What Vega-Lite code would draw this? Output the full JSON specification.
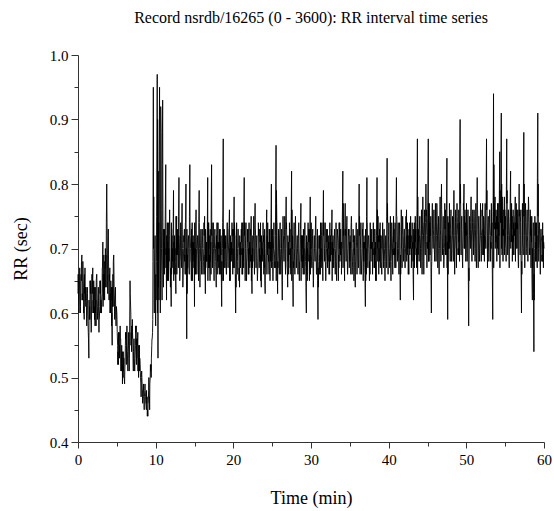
{
"$schema": "https://vega.github.io/schema/vega-lite/v6.json",
"autosize": "none",
"width": 466,
"height": 387,
"padding": {"left": 78, "top": 55, "right": 10, "bottom": 69},
"background": "white",
"title": {"text": "Record nsrdb/16265 (0 - 3600): RR interval time series", "font": "Liberation Serif", "fontSize": 16, "fontWeight": "normal", "color": "black", "anchor": "middle", "offset": 22},
"config": {"view": {"stroke": null}},
"data": {"values": [
{"t":0.0,"v":0.63},{"t":0.1,"v":0.61},{"t":0.2,"v":0.65},{"t":0.3,"v":0.60},{"t":0.4,"v":0.66},{"t":0.5,"v":0.69},{"t":0.6,"v":0.62},{"t":0.7,"v":0.64},{"t":0.8,"v":0.59},{"t":0.9,"v":0.67},
{"t":1.0,"v":0.62},{"t":1.1,"v":0.60},{"t":1.2,"v":0.64},{"t":1.3,"v":0.58},{"t":1.4,"v":0.53},{"t":1.5,"v":0.61},{"t":1.6,"v":0.63},{"t":1.7,"v":0.57},{"t":1.8,"v":0.66},{"t":1.9,"v":0.67},
{"t":2.0,"v":0.60},{"t":2.1,"v":0.64},{"t":2.2,"v":0.58},{"t":2.3,"v":0.62},{"t":2.4,"v":0.66},{"t":2.5,"v":0.59},{"t":2.6,"v":0.63},{"t":2.7,"v":0.57},{"t":2.8,"v":0.61},{"t":2.9,"v":0.65},
{"t":3.0,"v":0.60},{"t":3.1,"v":0.63},{"t":3.2,"v":0.71},{"t":3.3,"v":0.62},{"t":3.4,"v":0.66},{"t":3.5,"v":0.64},{"t":3.6,"v":0.69},{"t":3.7,"v":0.80},{"t":3.8,"v":0.65},{"t":3.9,"v":0.73},
{"t":4.0,"v":0.62},{"t":4.1,"v":0.67},{"t":4.2,"v":0.60},{"t":4.3,"v":0.64},{"t":4.4,"v":0.55},{"t":4.5,"v":0.66},{"t":4.6,"v":0.69},{"t":4.7,"v":0.61},{"t":4.8,"v":0.63},{"t":4.9,"v":0.58},
{"t":5.0,"v":0.60},{"t":5.1,"v":0.55},{"t":5.2,"v":0.52},{"t":5.3,"v":0.57},{"t":5.4,"v":0.53},{"t":5.5,"v":0.56},{"t":5.6,"v":0.51},{"t":5.7,"v":0.54},{"t":5.8,"v":0.50},{"t":5.9,"v":0.53},
{"t":6.0,"v":0.49},{"t":6.1,"v":0.55},{"t":6.2,"v":0.57},{"t":6.3,"v":0.58},{"t":6.4,"v":0.52},{"t":6.5,"v":0.55},{"t":6.6,"v":0.51},{"t":6.7,"v":0.65},{"t":6.8,"v":0.60},{"t":6.9,"v":0.54},
{"t":7.0,"v":0.59},{"t":7.1,"v":0.52},{"t":7.2,"v":0.56},{"t":7.3,"v":0.51},{"t":7.4,"v":0.55},{"t":7.5,"v":0.58},{"t":7.6,"v":0.53},{"t":7.7,"v":0.57},{"t":7.8,"v":0.50},{"t":7.9,"v":0.55},
{"t":8.0,"v":0.52},{"t":8.1,"v":0.49},{"t":8.2,"v":0.51},{"t":8.3,"v":0.47},{"t":8.4,"v":0.48},{"t":8.5,"v":0.46},{"t":8.6,"v":0.48},{"t":8.7,"v":0.47},{"t":8.8,"v":0.45},{"t":8.9,"v":0.47},
{"t":9.0,"v":0.44},{"t":9.1,"v":0.48},{"t":9.2,"v":0.47},{"t":9.3,"v":0.50},{"t":9.4,"v":0.52},{"t":9.5,"v":0.55},{"t":9.6,"v":0.57},{"t":9.7,"v":0.95},{"t":9.8,"v":0.62},{"t":9.9,"v":0.70},
{"t":10.0,"v":0.58},{"t":10.1,"v":0.68},{"t":10.2,"v":0.97},{"t":10.3,"v":0.53},{"t":10.4,"v":0.74},{"t":10.5,"v":0.95},{"t":10.6,"v":0.60},{"t":10.7,"v":0.88},{"t":10.8,"v":0.66},{"t":10.9,"v":0.93},
{"t":11.0,"v":0.64},{"t":11.1,"v":0.71},{"t":11.2,"v":0.69},{"t":11.3,"v":0.83},{"t":11.4,"v":0.62},{"t":11.5,"v":0.74},{"t":11.6,"v":0.66},{"t":11.7,"v":0.70},{"t":11.8,"v":0.76},{"t":11.9,"v":0.64},
{"t":12.0,"v":0.61},{"t":12.1,"v":0.72},{"t":12.2,"v":0.68},{"t":12.3,"v":0.79},{"t":12.4,"v":0.66},{"t":12.5,"v":0.70},{"t":12.6,"v":0.63},{"t":12.7,"v":0.75},{"t":12.8,"v":0.69},{"t":12.9,"v":0.72},
{"t":13.0,"v":0.81},{"t":13.1,"v":0.65},{"t":13.2,"v":0.71},{"t":13.3,"v":0.68},{"t":13.4,"v":0.77},{"t":13.5,"v":0.64},{"t":13.6,"v":0.70},{"t":13.7,"v":0.73},{"t":13.8,"v":0.66},{"t":13.9,"v":0.80},
{"t":14.0,"v":0.56},{"t":14.1,"v":0.69},{"t":14.2,"v":0.72},{"t":14.3,"v":0.67},{"t":14.4,"v":0.83},{"t":14.5,"v":0.70},{"t":14.6,"v":0.65},{"t":14.7,"v":0.74},{"t":14.8,"v":0.68},{"t":14.9,"v":0.71},
{"t":15.0,"v":0.61},{"t":15.1,"v":0.70},{"t":15.2,"v":0.76},{"t":15.3,"v":0.66},{"t":15.4,"v":0.72},{"t":15.5,"v":0.69},{"t":15.6,"v":0.79},{"t":15.7,"v":0.64},{"t":15.8,"v":0.71},{"t":15.9,"v":0.68},
{"t":16.0,"v":0.73},{"t":16.1,"v":0.66},{"t":16.2,"v":0.70},{"t":16.3,"v":0.75},{"t":16.4,"v":0.63},{"t":16.5,"v":0.70},{"t":16.6,"v":0.68},{"t":16.7,"v":0.81},{"t":16.8,"v":0.67},{"t":16.9,"v":0.72},
{"t":17.0,"v":0.65},{"t":17.1,"v":0.71},{"t":17.2,"v":0.83},{"t":17.3,"v":0.69},{"t":17.4,"v":0.73},{"t":17.5,"v":0.66},{"t":17.6,"v":0.72},{"t":17.7,"v":0.70},{"t":17.8,"v":0.64},{"t":17.9,"v":0.74},
{"t":18.0,"v":0.68},{"t":18.1,"v":0.71},{"t":18.2,"v":0.66},{"t":18.3,"v":0.73},{"t":18.4,"v":0.69},{"t":18.5,"v":0.61},{"t":18.6,"v":0.70},{"t":18.7,"v":0.87},{"t":18.8,"v":0.67},{"t":18.9,"v":0.72},
{"t":19.0,"v":0.70},{"t":19.1,"v":0.66},{"t":19.2,"v":0.74},{"t":19.3,"v":0.68},{"t":19.4,"v":0.71},{"t":19.5,"v":0.76},{"t":19.6,"v":0.65},{"t":19.7,"v":0.70},{"t":19.8,"v":0.69},{"t":19.9,"v":0.73},
{"t":20.0,"v":0.67},{"t":20.1,"v":0.78},{"t":20.2,"v":0.72},{"t":20.3,"v":0.60},{"t":20.4,"v":0.69},{"t":20.5,"v":0.66},{"t":20.6,"v":0.73},{"t":20.7,"v":0.70},{"t":20.8,"v":0.64},{"t":20.9,"v":0.71},
{"t":21.0,"v":0.69},{"t":21.1,"v":0.74},{"t":21.2,"v":0.66},{"t":21.3,"v":0.70},{"t":21.4,"v":0.81},{"t":21.5,"v":0.68},{"t":21.6,"v":0.72},{"t":21.7,"v":0.65},{"t":21.8,"v":0.70},{"t":21.9,"v":0.73},
{"t":22.0,"v":0.66},{"t":22.1,"v":0.71},{"t":22.2,"v":0.68},{"t":22.3,"v":0.75},{"t":22.4,"v":0.63},{"t":22.5,"v":0.70},{"t":22.6,"v":0.72},{"t":22.7,"v":0.67},{"t":22.8,"v":0.77},{"t":22.9,"v":0.69},
{"t":23.0,"v":0.71},{"t":23.1,"v":0.65},{"t":23.2,"v":0.70},{"t":23.3,"v":0.73},{"t":23.4,"v":0.68},{"t":23.5,"v":0.74},{"t":23.6,"v":0.64},{"t":23.7,"v":0.71},{"t":23.8,"v":0.69},{"t":23.9,"v":0.72},
{"t":24.0,"v":0.67},{"t":24.1,"v":0.63},{"t":24.2,"v":0.70},{"t":24.3,"v":0.76},{"t":24.4,"v":0.69},{"t":24.5,"v":0.71},{"t":24.6,"v":0.66},{"t":24.7,"v":0.73},{"t":24.8,"v":0.68},{"t":24.9,"v":0.80},
{"t":25.0,"v":0.70},{"t":25.1,"v":0.65},{"t":25.2,"v":0.72},{"t":25.3,"v":0.69},{"t":25.4,"v":0.67},{"t":25.5,"v":0.86},{"t":25.6,"v":0.74},{"t":25.7,"v":0.63},{"t":25.8,"v":0.71},{"t":25.9,"v":0.68},
{"t":26.0,"v":0.73},{"t":26.1,"v":0.66},{"t":26.2,"v":0.70},{"t":26.3,"v":0.62},{"t":26.4,"v":0.75},{"t":26.5,"v":0.69},{"t":26.6,"v":0.72},{"t":26.7,"v":0.67},{"t":26.8,"v":0.78},{"t":26.9,"v":0.70},
{"t":27.0,"v":0.64},{"t":27.1,"v":0.71},{"t":27.2,"v":0.69},{"t":27.3,"v":0.73},{"t":27.4,"v":0.66},{"t":27.5,"v":0.82},{"t":27.6,"v":0.70},{"t":27.7,"v":0.61},{"t":27.8,"v":0.72},{"t":27.9,"v":0.68},
{"t":28.0,"v":0.75},{"t":28.1,"v":0.67},{"t":28.2,"v":0.71},{"t":28.3,"v":0.69},{"t":28.4,"v":0.73},{"t":28.5,"v":0.65},{"t":28.6,"v":0.70},{"t":28.7,"v":0.77},{"t":28.8,"v":0.68},{"t":28.9,"v":0.72},
{"t":29.0,"v":0.66},{"t":29.1,"v":0.70},{"t":29.2,"v":0.74},{"t":29.3,"v":0.68},{"t":29.4,"v":0.60},{"t":29.5,"v":0.71},{"t":29.6,"v":0.69},{"t":29.7,"v":0.73},{"t":29.8,"v":0.65},{"t":29.9,"v":0.78},
{"t":30.0,"v":0.70},{"t":30.1,"v":0.67},{"t":30.2,"v":0.72},{"t":30.3,"v":0.64},{"t":30.4,"v":0.71},{"t":30.5,"v":0.69},{"t":30.6,"v":0.75},{"t":30.7,"v":0.66},{"t":30.8,"v":0.70},{"t":30.9,"v":0.59},
{"t":31.0,"v":0.68},{"t":31.1,"v":0.72},{"t":31.2,"v":0.66},{"t":31.3,"v":0.70},{"t":31.4,"v":0.74},{"t":31.5,"v":0.67},{"t":31.6,"v":0.79},{"t":31.7,"v":0.69},{"t":31.8,"v":0.71},{"t":31.9,"v":0.65},
{"t":32.0,"v":0.70},{"t":32.1,"v":0.73},{"t":32.2,"v":0.68},{"t":32.3,"v":0.71},{"t":32.4,"v":0.66},{"t":32.5,"v":0.72},{"t":32.6,"v":0.69},{"t":32.7,"v":0.76},{"t":32.8,"v":0.67},{"t":32.9,"v":0.70},
{"t":33.0,"v":0.72},{"t":33.1,"v":0.68},{"t":33.2,"v":0.70},{"t":33.3,"v":0.65},{"t":33.4,"v":0.73},{"t":33.5,"v":0.71},{"t":33.6,"v":0.67},{"t":33.7,"v":0.74},{"t":33.8,"v":0.69},{"t":33.9,"v":0.71},
{"t":34.0,"v":0.70},{"t":34.1,"v":0.82},{"t":34.2,"v":0.72},{"t":34.3,"v":0.67},{"t":34.4,"v":0.77},{"t":34.5,"v":0.69},{"t":34.6,"v":0.74},{"t":34.7,"v":0.66},{"t":34.8,"v":0.71},{"t":34.9,"v":0.73},
{"t":35.0,"v":0.68},{"t":35.1,"v":0.71},{"t":35.2,"v":0.75},{"t":35.3,"v":0.66},{"t":35.4,"v":0.70},{"t":35.5,"v":0.72},{"t":35.6,"v":0.69},{"t":35.7,"v":0.64},{"t":35.8,"v":0.73},{"t":35.9,"v":0.70},
{"t":36.0,"v":0.71},{"t":36.1,"v":0.67},{"t":36.2,"v":0.80},{"t":36.3,"v":0.69},{"t":36.4,"v":0.72},{"t":36.5,"v":0.66},{"t":36.6,"v":0.70},{"t":36.7,"v":0.74},{"t":36.8,"v":0.68},{"t":36.9,"v":0.71},
{"t":37.0,"v":0.61},{"t":37.1,"v":0.70},{"t":37.2,"v":0.81},{"t":37.3,"v":0.68},{"t":37.4,"v":0.72},{"t":37.5,"v":0.69},{"t":37.6,"v":0.66},{"t":37.7,"v":0.73},{"t":37.8,"v":0.70},{"t":37.9,"v":0.71},
{"t":38.0,"v":0.69},{"t":38.1,"v":0.73},{"t":38.2,"v":0.67},{"t":38.3,"v":0.71},{"t":38.4,"v":0.65},{"t":38.5,"v":0.81},{"t":38.6,"v":0.70},{"t":38.7,"v":0.72},{"t":38.8,"v":0.68},{"t":38.9,"v":0.74},
{"t":39.0,"v":0.70},{"t":39.1,"v":0.66},{"t":39.2,"v":0.72},{"t":39.3,"v":0.69},{"t":39.4,"v":0.73},{"t":39.5,"v":0.68},{"t":39.6,"v":0.71},{"t":39.7,"v":0.67},{"t":39.8,"v":0.84},{"t":39.9,"v":0.70},
{"t":40.0,"v":0.72},{"t":40.1,"v":0.68},{"t":40.2,"v":0.71},{"t":40.3,"v":0.65},{"t":40.4,"v":0.74},{"t":40.5,"v":0.70},{"t":40.6,"v":0.69},{"t":40.7,"v":0.73},{"t":40.8,"v":0.67},{"t":40.9,"v":0.71},
{"t":41.0,"v":0.81},{"t":41.1,"v":0.69},{"t":41.2,"v":0.72},{"t":41.3,"v":0.68},{"t":41.4,"v":0.74},{"t":41.5,"v":0.62},{"t":41.6,"v":0.71},{"t":41.7,"v":0.70},{"t":41.8,"v":0.75},{"t":41.9,"v":0.69},
{"t":42.0,"v":0.73},{"t":42.1,"v":0.67},{"t":42.2,"v":0.71},{"t":42.3,"v":0.76},{"t":42.4,"v":0.69},{"t":42.5,"v":0.72},{"t":42.6,"v":0.66},{"t":42.7,"v":0.74},{"t":42.8,"v":0.70},{"t":42.9,"v":0.72},
{"t":43.0,"v":0.68},{"t":43.1,"v":0.71},{"t":43.2,"v":0.62},{"t":43.3,"v":0.74},{"t":43.4,"v":0.70},{"t":43.5,"v":0.73},{"t":43.6,"v":0.67},{"t":43.7,"v":0.87},{"t":43.8,"v":0.69},{"t":43.9,"v":0.72},
{"t":44.0,"v":0.75},{"t":44.1,"v":0.70},{"t":44.2,"v":0.73},{"t":44.3,"v":0.66},{"t":44.4,"v":0.78},{"t":44.5,"v":0.71},{"t":44.6,"v":0.74},{"t":44.7,"v":0.69},{"t":44.8,"v":0.80},{"t":44.9,"v":0.72},
{"t":45.0,"v":0.70},{"t":45.1,"v":0.87},{"t":45.2,"v":0.68},{"t":45.3,"v":0.74},{"t":45.4,"v":0.72},{"t":45.5,"v":0.60},{"t":45.6,"v":0.76},{"t":45.7,"v":0.71},{"t":45.8,"v":0.73},{"t":45.9,"v":0.69},
{"t":46.0,"v":0.74},{"t":46.1,"v":0.68},{"t":46.2,"v":0.77},{"t":46.3,"v":0.71},{"t":46.4,"v":0.73},{"t":46.5,"v":0.66},{"t":46.6,"v":0.75},{"t":46.7,"v":0.72},{"t":46.8,"v":0.80},{"t":46.9,"v":0.70},
{"t":47.0,"v":0.73},{"t":47.1,"v":0.67},{"t":47.2,"v":0.71},{"t":47.3,"v":0.76},{"t":47.4,"v":0.69},{"t":47.5,"v":0.84},{"t":47.6,"v":0.59},{"t":47.7,"v":0.74},{"t":47.8,"v":0.70},{"t":47.9,"v":0.72},
{"t":48.0,"v":0.75},{"t":48.1,"v":0.68},{"t":48.2,"v":0.73},{"t":48.3,"v":0.71},{"t":48.4,"v":0.79},{"t":48.5,"v":0.66},{"t":48.6,"v":0.74},{"t":48.7,"v":0.70},{"t":48.8,"v":0.77},{"t":48.9,"v":0.72},
{"t":49.0,"v":0.69},{"t":49.1,"v":0.74},{"t":49.2,"v":0.90},{"t":49.3,"v":0.71},{"t":49.4,"v":0.75},{"t":49.5,"v":0.68},{"t":49.6,"v":0.73},{"t":49.7,"v":0.80},{"t":49.8,"v":0.70},{"t":49.9,"v":0.74},
{"t":50.0,"v":0.72},{"t":50.1,"v":0.68},{"t":50.2,"v":0.76},{"t":50.3,"v":0.58},{"t":50.4,"v":0.73},{"t":50.5,"v":0.71},{"t":50.6,"v":0.78},{"t":50.7,"v":0.69},{"t":50.8,"v":0.74},{"t":50.9,"v":0.72},
{"t":51.0,"v":0.76},{"t":51.1,"v":0.70},{"t":51.2,"v":0.73},{"t":51.3,"v":0.67},{"t":51.4,"v":0.81},{"t":51.5,"v":0.72},{"t":51.6,"v":0.75},{"t":51.7,"v":0.68},{"t":51.8,"v":0.74},{"t":51.9,"v":0.71},
{"t":52.0,"v":0.73},{"t":52.1,"v":0.77},{"t":52.2,"v":0.69},{"t":52.3,"v":0.72},{"t":52.4,"v":0.75},{"t":52.5,"v":0.70},{"t":52.6,"v":0.87},{"t":52.7,"v":0.71},{"t":52.8,"v":0.74},{"t":52.9,"v":0.68},
{"t":53.0,"v":0.76},{"t":53.1,"v":0.72},{"t":53.2,"v":0.70},{"t":53.3,"v":0.74},{"t":53.4,"v":0.59},{"t":53.5,"v":0.94},{"t":53.6,"v":0.73},{"t":53.7,"v":0.78},{"t":53.8,"v":0.71},{"t":53.9,"v":0.75},
{"t":54.0,"v":0.70},{"t":54.1,"v":0.77},{"t":54.2,"v":0.72},{"t":54.3,"v":0.85},{"t":54.4,"v":0.74},{"t":54.5,"v":0.91},{"t":54.6,"v":0.69},{"t":54.7,"v":0.75},{"t":54.8,"v":0.72},{"t":54.9,"v":0.78},
{"t":55.0,"v":0.73},{"t":55.1,"v":0.70},{"t":55.2,"v":0.87},{"t":55.3,"v":0.72},{"t":55.4,"v":0.76},{"t":55.5,"v":0.68},{"t":55.6,"v":0.74},{"t":55.7,"v":0.82},{"t":55.8,"v":0.71},{"t":55.9,"v":0.75},
{"t":56.0,"v":0.69},{"t":56.1,"v":0.74},{"t":56.2,"v":0.72},{"t":56.3,"v":0.78},{"t":56.4,"v":0.70},{"t":56.5,"v":0.76},{"t":56.6,"v":0.73},{"t":56.7,"v":0.67},{"t":56.8,"v":0.80},{"t":56.9,"v":0.72},
{"t":57.0,"v":0.75},{"t":57.1,"v":0.60},{"t":57.2,"v":0.73},{"t":57.3,"v":0.70},{"t":57.4,"v":0.88},{"t":57.5,"v":0.72},{"t":57.6,"v":0.76},{"t":57.7,"v":0.69},{"t":57.8,"v":0.74},{"t":57.9,"v":0.71},
{"t":58.0,"v":0.78},{"t":58.1,"v":0.72},{"t":58.2,"v":0.69},{"t":58.3,"v":0.75},{"t":58.4,"v":0.71},{"t":58.5,"v":0.62},{"t":58.6,"v":0.73},{"t":58.7,"v":0.54},{"t":58.8,"v":0.70},{"t":58.9,"v":0.74},
{"t":59.0,"v":0.68},{"t":59.1,"v":0.72},{"t":59.2,"v":0.91},{"t":59.3,"v":0.70},{"t":59.4,"v":0.74},{"t":59.5,"v":0.69},{"t":59.6,"v":0.73},{"t":59.7,"v":0.71},{"t":59.8,"v":0.68},{"t":59.9,"v":0.72},
{"t":60.0,"v":0.70},
{"t":0.05,"v":0.64},{"t":0.15,"v":0.62},{"t":0.25,"v":0.63},{"t":0.35,"v":0.65},{"t":0.45,"v":0.68},{"t":0.55,"v":0.63},{"t":0.65,"v":0.66},{"t":0.75,"v":0.61},{"t":0.85,"v":0.63},{"t":0.95,"v":0.64},
{"t":1.05,"v":0.63},{"t":1.15,"v":0.62},{"t":1.25,"v":0.60},{"t":1.35,"v":0.56},{"t":1.45,"v":0.59},{"t":1.55,"v":0.65},{"t":1.65,"v":0.60},{"t":1.75,"v":0.62},{"t":1.85,"v":0.64},{"t":1.95,"v":0.62},
{"t":2.05,"v":0.62},{"t":2.15,"v":0.61},{"t":2.25,"v":0.60},{"t":2.35,"v":0.65},{"t":2.45,"v":0.62},{"t":2.55,"v":0.61},{"t":2.65,"v":0.60},{"t":2.75,"v":0.59},{"t":2.85,"v":0.63},{"t":2.95,"v":0.62},
{"t":3.05,"v":0.62},{"t":3.15,"v":0.67},{"t":3.25,"v":0.66},{"t":3.35,"v":0.64},{"t":3.45,"v":0.68},{"t":3.55,"v":0.67},{"t":3.65,"v":0.74},{"t":3.75,"v":0.72},{"t":3.85,"v":0.69},{"t":3.95,"v":0.66},
{"t":4.05,"v":0.65},{"t":4.15,"v":0.63},{"t":4.25,"v":0.62},{"t":4.35,"v":0.60},{"t":4.45,"v":0.61},{"t":4.55,"v":0.68},{"t":4.65,"v":0.64},{"t":4.75,"v":0.62},{"t":4.85,"v":0.60},{"t":4.95,"v":0.61},
{"t":5.05,"v":0.57},{"t":5.15,"v":0.54},{"t":5.25,"v":0.55},{"t":5.35,"v":0.55},{"t":5.45,"v":0.56},{"t":5.55,"v":0.53},{"t":5.65,"v":0.52},{"t":5.75,"v":0.52},{"t":5.85,"v":0.51},{"t":5.95,"v":0.50},
{"t":6.05,"v":0.52},{"t":6.15,"v":0.56},{"t":6.25,"v":0.55},{"t":6.35,"v":0.54},{"t":6.45,"v":0.54},{"t":6.55,"v":0.53},{"t":6.65,"v":0.58},{"t":6.75,"v":0.62},{"t":6.85,"v":0.57},{"t":6.95,"v":0.56},
{"t":7.05,"v":0.56},{"t":7.15,"v":0.54},{"t":7.25,"v":0.53},{"t":7.35,"v":0.53},{"t":7.45,"v":0.57},{"t":7.55,"v":0.56},{"t":7.65,"v":0.55},{"t":7.75,"v":0.53},{"t":7.85,"v":0.52},{"t":7.95,"v":0.53},
{"t":8.05,"v":0.50},{"t":8.15,"v":0.50},{"t":8.25,"v":0.49},{"t":8.35,"v":0.48},{"t":8.45,"v":0.47},{"t":8.55,"v":0.47},{"t":8.65,"v":0.48},{"t":8.75,"v":0.46},{"t":8.85,"v":0.46},{"t":8.95,"v":0.45},
{"t":9.05,"v":0.46},{"t":9.15,"v":0.47},{"t":9.25,"v":0.49},{"t":9.35,"v":0.51},{"t":9.45,"v":0.53},{"t":9.55,"v":0.56},{"t":9.65,"v":0.68},{"t":9.75,"v":0.78},{"t":9.85,"v":0.66},{"t":9.95,"v":0.64},
{"t":10.05,"v":0.62},{"t":10.15,"v":0.80},{"t":10.25,"v":0.90},{"t":10.35,"v":0.64},{"t":10.45,"v":0.85},{"t":10.55,"v":0.72},{"t":10.65,"v":0.92},{"t":10.75,"v":0.70},{"t":10.85,"v":0.83},{"t":10.95,"v":0.68},
{"t":11.05,"v":0.67},{"t":11.15,"v":0.73},{"t":11.25,"v":0.77},{"t":11.35,"v":0.70},{"t":11.45,"v":0.68},{"t":11.55,"v":0.71},{"t":11.65,"v":0.65},{"t":11.75,"v":0.72},{"t":11.85,"v":0.69},{"t":11.95,"v":0.67},
{"t":12.05,"v":0.66},{"t":12.15,"v":0.70},{"t":12.25,"v":0.73},{"t":12.35,"v":0.71},{"t":12.45,"v":0.68},{"t":12.55,"v":0.67},{"t":12.65,"v":0.69},{"t":12.75,"v":0.71},{"t":12.85,"v":0.70},{"t":12.95,"v":0.75},
{"t":13.05,"v":0.72},{"t":13.15,"v":0.68},{"t":13.25,"v":0.69},{"t":13.35,"v":0.73},{"t":13.45,"v":0.70},{"t":13.55,"v":0.67},{"t":13.65,"v":0.71},{"t":13.75,"v":0.69},{"t":13.85,"v":0.74},{"t":13.95,"v":0.70},
{"t":14.05,"v":0.63},{"t":14.15,"v":0.71},{"t":14.25,"v":0.70},{"t":14.35,"v":0.75},{"t":14.45,"v":0.72},{"t":14.55,"v":0.68},{"t":14.65,"v":0.70},{"t":14.75,"v":0.71},{"t":14.85,"v":0.69},{"t":14.95,"v":0.70},
{"t":15.05,"v":0.66},{"t":15.15,"v":0.73},{"t":15.25,"v":0.70},{"t":15.35,"v":0.69},{"t":15.45,"v":0.71},{"t":15.55,"v":0.74},{"t":15.65,"v":0.70},{"t":15.75,"v":0.68},{"t":15.85,"v":0.70},{"t":15.95,"v":0.71},
{"t":16.05,"v":0.70},{"t":16.15,"v":0.68},{"t":16.25,"v":0.72},{"t":16.35,"v":0.69},{"t":16.45,"v":0.67},{"t":16.55,"v":0.71},{"t":16.65,"v":0.73},{"t":16.75,"v":0.74},{"t":16.85,"v":0.70},{"t":16.95,"v":0.69},
{"t":17.05,"v":0.68},{"t":17.15,"v":0.76},{"t":17.25,"v":0.74},{"t":17.35,"v":0.71},{"t":17.45,"v":0.70},{"t":17.55,"v":0.69},{"t":17.65,"v":0.71},{"t":17.75,"v":0.67},{"t":17.85,"v":0.70},{"t":17.95,"v":0.71},
{"t":18.05,"v":0.70},{"t":18.15,"v":0.69},{"t":18.25,"v":0.70},{"t":18.35,"v":0.71},{"t":18.45,"v":0.66},{"t":18.55,"v":0.65},{"t":18.65,"v":0.76},{"t":18.75,"v":0.73},{"t":18.85,"v":0.70},{"t":18.95,"v":0.71},
{"t":19.05,"v":0.68},{"t":19.15,"v":0.70},{"t":19.25,"v":0.71},{"t":19.35,"v":0.69},{"t":19.45,"v":0.73},{"t":19.55,"v":0.70},{"t":19.65,"v":0.68},{"t":19.75,"v":0.71},{"t":19.85,"v":0.72},{"t":19.95,"v":0.70},
{"t":20.05,"v":0.72},{"t":20.15,"v":0.74},{"t":20.25,"v":0.66},{"t":20.35,"v":0.64},{"t":20.45,"v":0.68},{"t":20.55,"v":0.70},{"t":20.65,"v":0.71},{"t":20.75,"v":0.67},{"t":20.85,"v":0.69},{"t":20.95,"v":0.70},
{"t":21.05,"v":0.71},{"t":21.15,"v":0.70},{"t":21.25,"v":0.68},{"t":21.35,"v":0.75},{"t":21.45,"v":0.74},{"t":21.55,"v":0.70},{"t":21.65,"v":0.69},{"t":21.75,"v":0.68},{"t":21.85,"v":0.71},{"t":21.95,"v":0.70},
{"t":22.05,"v":0.69},{"t":22.15,"v":0.70},{"t":22.25,"v":0.72},{"t":22.35,"v":0.69},{"t":22.45,"v":0.67},{"t":22.55,"v":0.71},{"t":22.65,"v":0.70},{"t":22.75,"v":0.72},{"t":22.85,"v":0.73},{"t":22.95,"v":0.70},
{"t":23.05,"v":0.68},{"t":23.15,"v":0.67},{"t":23.25,"v":0.72},{"t":23.35,"v":0.70},{"t":23.45,"v":0.71},{"t":23.55,"v":0.69},{"t":23.65,"v":0.68},{"t":23.75,"v":0.70},{"t":23.85,"v":0.71},{"t":23.95,"v":0.69},
{"t":24.05,"v":0.65},{"t":24.15,"v":0.67},{"t":24.25,"v":0.73},{"t":24.35,"v":0.72},{"t":24.45,"v":0.70},{"t":24.55,"v":0.69},{"t":24.65,"v":0.70},{"t":24.75,"v":0.71},{"t":24.85,"v":0.74},{"t":24.95,"v":0.73},
{"t":25.05,"v":0.68},{"t":25.15,"v":0.69},{"t":25.25,"v":0.70},{"t":25.35,"v":0.68},{"t":25.45,"v":0.77},{"t":25.55,"v":0.79},{"t":25.65,"v":0.68},{"t":25.75,"v":0.67},{"t":25.85,"v":0.70},{"t":25.95,"v":0.71},
{"t":26.05,"v":0.70},{"t":26.15,"v":0.68},{"t":26.25,"v":0.66},{"t":26.35,"v":0.69},{"t":26.45,"v":0.72},{"t":26.55,"v":0.71},{"t":26.65,"v":0.70},{"t":26.75,"v":0.73},{"t":26.85,"v":0.74},{"t":26.95,"v":0.67},
{"t":27.05,"v":0.68},{"t":27.15,"v":0.70},{"t":27.25,"v":0.71},{"t":27.35,"v":0.70},{"t":27.45,"v":0.75},{"t":27.55,"v":0.76},{"t":27.65,"v":0.66},{"t":27.75,"v":0.67},{"t":27.85,"v":0.70},{"t":27.95,"v":0.71},
{"t":28.05,"v":0.71},{"t":28.15,"v":0.69},{"t":28.25,"v":0.70},{"t":28.35,"v":0.71},{"t":28.45,"v":0.68},{"t":28.55,"v":0.68},{"t":28.65,"v":0.73},{"t":28.75,"v":0.72},{"t":28.85,"v":0.70},{"t":28.95,"v":0.69},
{"t":29.05,"v":0.68},{"t":29.15,"v":0.72},{"t":29.25,"v":0.71},{"t":29.35,"v":0.64},{"t":29.45,"v":0.66},{"t":29.55,"v":0.70},{"t":29.65,"v":0.71},{"t":29.75,"v":0.69},{"t":29.85,"v":0.71},{"t":29.95,"v":0.73},
{"t":30.05,"v":0.69},{"t":30.15,"v":0.70},{"t":30.25,"v":0.68},{"t":30.35,"v":0.68},{"t":30.45,"v":0.70},{"t":30.55,"v":0.72},{"t":30.65,"v":0.70},{"t":30.75,"v":0.68},{"t":30.85,"v":0.65},{"t":30.95,"v":0.64},
{"t":31.05,"v":0.70},{"t":31.15,"v":0.69},{"t":31.25,"v":0.68},{"t":31.35,"v":0.72},{"t":31.45,"v":0.71},{"t":31.55,"v":0.73},{"t":31.65,"v":0.74},{"t":31.75,"v":0.70},{"t":31.85,"v":0.68},{"t":31.95,"v":0.68},
{"t":32.05,"v":0.71},{"t":32.15,"v":0.70},{"t":32.25,"v":0.70},{"t":32.35,"v":0.69},{"t":32.45,"v":0.69},{"t":32.55,"v":0.71},{"t":32.65,"v":0.72},{"t":32.75,"v":0.71},{"t":32.85,"v":0.69},{"t":32.95,"v":0.71},
{"t":33.05,"v":0.70},{"t":33.15,"v":0.69},{"t":33.25,"v":0.68},{"t":33.35,"v":0.69},{"t":33.45,"v":0.72},{"t":33.55,"v":0.69},{"t":33.65,"v":0.70},{"t":33.75,"v":0.71},{"t":33.85,"v":0.70},{"t":33.95,"v":0.70},
{"t":34.05,"v":0.76},{"t":34.15,"v":0.77},{"t":34.25,"v":0.70},{"t":34.35,"v":0.72},{"t":34.45,"v":0.73},{"t":34.55,"v":0.71},{"t":34.65,"v":0.70},{"t":34.75,"v":0.69},{"t":34.85,"v":0.72},{"t":34.95,"v":0.71},
{"t":35.05,"v":0.70},{"t":35.15,"v":0.73},{"t":35.25,"v":0.70},{"t":35.35,"v":0.68},{"t":35.45,"v":0.71},{"t":35.55,"v":0.70},{"t":35.65,"v":0.67},{"t":35.75,"v":0.68},{"t":35.85,"v":0.71},{"t":35.95,"v":0.70},
{"t":36.05,"v":0.69},{"t":36.15,"v":0.73},{"t":36.25,"v":0.75},{"t":36.35,"v":0.70},{"t":36.45,"v":0.69},{"t":36.55,"v":0.68},{"t":36.65,"v":0.72},{"t":36.75,"v":0.71},{"t":36.85,"v":0.70},{"t":36.95,"v":0.66},
{"t":37.05,"v":0.65},{"t":37.15,"v":0.75},{"t":37.25,"v":0.74},{"t":37.35,"v":0.70},{"t":37.45,"v":0.71},{"t":37.55,"v":0.68},{"t":37.65,"v":0.70},{"t":37.75,"v":0.71},{"t":37.85,"v":0.70},{"t":37.95,"v":0.70},
{"t":38.05,"v":0.71},{"t":38.15,"v":0.70},{"t":38.25,"v":0.69},{"t":38.35,"v":0.68},{"t":38.45,"v":0.73},{"t":38.55,"v":0.76},{"t":38.65,"v":0.71},{"t":38.75,"v":0.70},{"t":38.85,"v":0.71},{"t":38.95,"v":0.72},
{"t":39.05,"v":0.68},{"t":39.15,"v":0.69},{"t":39.25,"v":0.70},{"t":39.35,"v":0.71},{"t":39.45,"v":0.70},{"t":39.55,"v":0.69},{"t":39.65,"v":0.69},{"t":39.75,"v":0.75},{"t":39.85,"v":0.77},{"t":39.95,"v":0.71},
{"t":40.05,"v":0.70},{"t":40.15,"v":0.69},{"t":40.25,"v":0.68},{"t":40.35,"v":0.69},{"t":40.45,"v":0.72},{"t":40.55,"v":0.70},{"t":40.65,"v":0.71},{"t":40.75,"v":0.70},{"t":40.85,"v":0.69},{"t":40.95,"v":0.75},
{"t":41.05,"v":0.75},{"t":41.15,"v":0.70},{"t":41.25,"v":0.70},{"t":41.35,"v":0.71},{"t":41.45,"v":0.68},{"t":41.55,"v":0.66},{"t":41.65,"v":0.70},{"t":41.75,"v":0.72},{"t":41.85,"v":0.72},{"t":41.95,"v":0.71},
{"t":42.05,"v":0.70},{"t":42.15,"v":0.69},{"t":42.25,"v":0.73},{"t":42.35,"v":0.72},{"t":42.45,"v":0.70},{"t":42.55,"v":0.69},{"t":42.65,"v":0.70},{"t":42.75,"v":0.72},{"t":42.85,"v":0.71},{"t":42.95,"v":0.70},
{"t":43.05,"v":0.70},{"t":43.15,"v":0.66},{"t":43.25,"v":0.68},{"t":43.35,"v":0.72},{"t":43.45,"v":0.71},{"t":43.55,"v":0.70},{"t":43.65,"v":0.76},{"t":43.75,"v":0.78},{"t":43.85,"v":0.71},{"t":43.95,"v":0.73},
{"t":44.05,"v":0.72},{"t":44.15,"v":0.71},{"t":44.25,"v":0.70},{"t":44.35,"v":0.72},{"t":44.45,"v":0.74},{"t":44.55,"v":0.72},{"t":44.65,"v":0.71},{"t":44.75,"v":0.74},{"t":44.85,"v":0.76},{"t":44.95,"v":0.71},
{"t":45.05,"v":0.78},{"t":45.15,"v":0.77},{"t":45.25,"v":0.71},{"t":45.35,"v":0.73},{"t":45.45,"v":0.66},{"t":45.55,"v":0.68},{"t":45.65,"v":0.73},{"t":45.75,"v":0.72},{"t":45.85,"v":0.71},{"t":45.95,"v":0.72},
{"t":46.05,"v":0.71},{"t":46.15,"v":0.72},{"t":46.25,"v":0.74},{"t":46.35,"v":0.72},{"t":46.45,"v":0.70},{"t":46.55,"v":0.70},{"t":46.65,"v":0.73},{"t":46.75,"v":0.76},{"t":46.85,"v":0.75},{"t":46.95,"v":0.71},
{"t":47.05,"v":0.70},{"t":47.15,"v":0.69},{"t":47.25,"v":0.73},{"t":47.35,"v":0.72},{"t":47.45,"v":0.76},{"t":47.55,"v":0.71},{"t":47.65,"v":0.66},{"t":47.75,"v":0.72},{"t":47.85,"v":0.71},{"t":47.95,"v":0.73},
{"t":48.05,"v":0.72},{"t":48.15,"v":0.70},{"t":48.25,"v":0.72},{"t":48.35,"v":0.75},{"t":48.45,"v":0.72},{"t":48.55,"v":0.70},{"t":48.65,"v":0.72},{"t":48.75,"v":0.73},{"t":48.85,"v":0.74},{"t":48.95,"v":0.70},
{"t":49.05,"v":0.71},{"t":49.15,"v":0.82},{"t":49.25,"v":0.80},{"t":49.35,"v":0.73},{"t":49.45,"v":0.71},{"t":49.55,"v":0.70},{"t":49.65,"v":0.76},{"t":49.75,"v":0.75},{"t":49.85,"v":0.72},{"t":49.95,"v":0.73},
{"t":50.05,"v":0.70},{"t":50.15,"v":0.72},{"t":50.25,"v":0.67},{"t":50.35,"v":0.65},{"t":50.45,"v":0.72},{"t":50.55,"v":0.74},{"t":50.65,"v":0.73},{"t":50.75,"v":0.71},{"t":50.85,"v":0.73},{"t":50.95,"v":0.74},
{"t":51.05,"v":0.73},{"t":51.15,"v":0.71},{"t":51.25,"v":0.70},{"t":51.35,"v":0.74},{"t":51.45,"v":0.76},{"t":51.55,"v":0.73},{"t":51.65,"v":0.71},{"t":51.75,"v":0.71},{"t":51.85,"v":0.72},{"t":51.95,"v":0.72},
{"t":52.05,"v":0.75},{"t":52.15,"v":0.73},{"t":52.25,"v":0.70},{"t":52.35,"v":0.73},{"t":52.45,"v":0.72},{"t":52.55,"v":0.78},{"t":52.65,"v":0.79},{"t":52.75,"v":0.72},{"t":52.85,"v":0.71},{"t":52.95,"v":0.72},
{"t":53.05,"v":0.74},{"t":53.15,"v":0.71},{"t":53.25,"v":0.72},{"t":53.35,"v":0.66},{"t":53.45,"v":0.77},{"t":53.55,"v":0.83},{"t":53.65,"v":0.75},{"t":53.75,"v":0.74},{"t":53.85,"v":0.73},{"t":53.95,"v":0.72},
{"t":54.05,"v":0.73},{"t":54.15,"v":0.74},{"t":54.25,"v":0.78},{"t":54.35,"v":0.79},{"t":54.45,"v":0.82},{"t":54.55,"v":0.80},{"t":54.65,"v":0.72},{"t":54.75,"v":0.73},{"t":54.85,"v":0.75},{"t":54.95,"v":0.76},
{"t":55.05,"v":0.71},{"t":55.15,"v":0.78},{"t":55.25,"v":0.79},{"t":55.35,"v":0.74},{"t":55.45,"v":0.72},{"t":55.55,"v":0.71},{"t":55.65,"v":0.78},{"t":55.75,"v":0.76},{"t":55.85,"v":0.73},{"t":55.95,"v":0.72},
{"t":56.05,"v":0.71},{"t":56.15,"v":0.73},{"t":56.25,"v":0.75},{"t":56.35,"v":0.74},{"t":56.45,"v":0.73},{"t":56.55,"v":0.74},{"t":56.65,"v":0.70},{"t":56.75,"v":0.74},{"t":56.85,"v":0.76},{"t":56.95,"v":0.74},
{"t":57.05,"v":0.67},{"t":57.15,"v":0.66},{"t":57.25,"v":0.71},{"t":57.35,"v":0.79},{"t":57.45,"v":0.80},{"t":57.55,"v":0.74},{"t":57.65,"v":0.72},{"t":57.75,"v":0.71},{"t":57.85,"v":0.72},{"t":57.95,"v":0.74},
{"t":58.05,"v":0.75},{"t":58.15,"v":0.70},{"t":58.25,"v":0.72},{"t":58.35,"v":0.73},{"t":58.45,"v":0.66},{"t":58.55,"v":0.67},{"t":58.65,"v":0.63},{"t":58.75,"v":0.62},{"t":58.85,"v":0.72},{"t":58.95,"v":0.71},
{"t":59.05,"v":0.70},{"t":59.15,"v":0.81},{"t":59.25,"v":0.80},{"t":59.35,"v":0.72},{"t":59.45,"v":0.71},{"t":59.55,"v":0.71},{"t":59.65,"v":0.72},{"t":59.75,"v":0.69},{"t":59.85,"v":0.70},{"t":59.95,"v":0.71},
{"t":0.025,"v":0.66},{"t":0.125,"v":0.60},{"t":0.225,"v":0.67},{"t":0.325,"v":0.61},{"t":0.425,"v":0.65},{"t":0.525,"v":0.62},{"t":0.625,"v":0.68},{"t":0.725,"v":0.60},{"t":0.825,"v":0.66},{"t":0.925,"v":0.61},
{"t":1.025,"v":0.64},{"t":1.125,"v":0.58},{"t":1.225,"v":0.63},{"t":1.325,"v":0.57},{"t":1.425,"v":0.62},{"t":1.525,"v":0.59},{"t":1.625,"v":0.65},{"t":1.725,"v":0.58},{"t":1.825,"v":0.63},{"t":1.925,"v":0.60},
{"t":2.025,"v":0.65},{"t":2.125,"v":0.59},{"t":2.225,"v":0.64},{"t":2.325,"v":0.58},{"t":2.425,"v":0.66},{"t":2.525,"v":0.60},{"t":2.625,"v":0.64},{"t":2.725,"v":0.59},{"t":2.825,"v":0.65},{"t":2.925,"v":0.60},
{"t":3.025,"v":0.60},{"t":3.125,"v":0.67},{"t":3.225,"v":0.61},{"t":3.325,"v":0.69},{"t":3.425,"v":0.62},{"t":3.525,"v":0.70},{"t":3.625,"v":0.64},{"t":3.725,"v":0.76},{"t":3.825,"v":0.63},{"t":3.925,"v":0.69},
{"t":4.025,"v":0.66},{"t":4.125,"v":0.60},{"t":4.225,"v":0.65},{"t":4.325,"v":0.58},{"t":4.425,"v":0.64},{"t":4.525,"v":0.61},{"t":4.625,"v":0.67},{"t":4.725,"v":0.59},{"t":4.825,"v":0.64},{"t":4.925,"v":0.60},
{"t":5.025,"v":0.59},{"t":5.125,"v":0.52},{"t":5.225,"v":0.57},{"t":5.325,"v":0.53},{"t":5.425,"v":0.58},{"t":5.525,"v":0.51},{"t":5.625,"v":0.55},{"t":5.725,"v":0.49},{"t":5.825,"v":0.54},{"t":5.925,"v":0.50},
{"t":6.025,"v":0.51},{"t":6.125,"v":0.57},{"t":6.225,"v":0.52},{"t":6.325,"v":0.56},{"t":6.425,"v":0.51},{"t":6.525,"v":0.57},{"t":6.625,"v":0.53},{"t":6.725,"v":0.63},{"t":6.825,"v":0.55},{"t":6.925,"v":0.58},
{"t":7.025,"v":0.57},{"t":7.125,"v":0.51},{"t":7.225,"v":0.56},{"t":7.325,"v":0.52},{"t":7.425,"v":0.58},{"t":7.525,"v":0.52},{"t":7.625,"v":0.56},{"t":7.725,"v":0.51},{"t":7.825,"v":0.55},{"t":7.925,"v":0.51},
{"t":8.025,"v":0.51},{"t":8.125,"v":0.47},{"t":8.225,"v":0.50},{"t":8.325,"v":0.46},{"t":8.425,"v":0.49},{"t":8.525,"v":0.45},{"t":8.625,"v":0.49},{"t":8.725,"v":0.46},{"t":8.825,"v":0.48},{"t":8.925,"v":0.44},
{"t":9.025,"v":0.46},{"t":9.125,"v":0.50},{"t":9.225,"v":0.45},{"t":9.325,"v":0.52},{"t":9.425,"v":0.50},{"t":9.525,"v":0.56},{"t":9.625,"v":0.59},{"t":9.725,"v":0.70},{"t":9.825,"v":0.60},{"t":9.925,"v":0.72},
{"t":10.025,"v":0.66},{"t":10.125,"v":0.75},{"t":10.225,"v":0.60},{"t":10.325,"v":0.82},{"t":10.425,"v":0.62},{"t":10.525,"v":0.78},{"t":10.625,"v":0.65},{"t":10.725,"v":0.76},{"t":10.825,"v":0.62},{"t":10.925,"v":0.80},
{"t":11.025,"v":0.73},{"t":11.125,"v":0.66},{"t":11.225,"v":0.74},{"t":11.325,"v":0.67},{"t":11.425,"v":0.72},{"t":11.525,"v":0.65},{"t":11.625,"v":0.74},{"t":11.725,"v":0.68},{"t":11.825,"v":0.73},{"t":11.925,"v":0.66},
{"t":12.025,"v":0.74},{"t":12.125,"v":0.67},{"t":12.225,"v":0.73},{"t":12.325,"v":0.65},{"t":12.425,"v":0.72},{"t":12.525,"v":0.68},{"t":12.625,"v":0.75},{"t":12.725,"v":0.66},{"t":12.825,"v":0.73},{"t":12.925,"v":0.67},
{"t":13.025,"v":0.72},{"t":13.125,"v":0.66},{"t":13.225,"v":0.74},{"t":13.325,"v":0.67},{"t":13.425,"v":0.73},{"t":13.525,"v":0.65},{"t":13.625,"v":0.72},{"t":13.725,"v":0.68},{"t":13.825,"v":0.74},{"t":13.925,"v":0.66},
{"t":14.025,"v":0.73},{"t":14.125,"v":0.67},{"t":14.225,"v":0.72},{"t":14.325,"v":0.66},{"t":14.425,"v":0.74},{"t":14.525,"v":0.68},{"t":14.625,"v":0.73},{"t":14.725,"v":0.65},{"t":14.825,"v":0.72},{"t":14.925,"v":0.67},
{"t":15.025,"v":0.74},{"t":15.125,"v":0.66},{"t":15.225,"v":0.73},{"t":15.325,"v":0.67},{"t":15.425,"v":0.72},{"t":15.525,"v":0.65},{"t":15.625,"v":0.74},{"t":15.725,"v":0.68},{"t":15.825,"v":0.73},{"t":15.925,"v":0.66},
{"t":16.025,"v":0.72},{"t":16.125,"v":0.67},{"t":16.225,"v":0.74},{"t":16.325,"v":0.66},{"t":16.425,"v":0.73},{"t":16.525,"v":0.68},{"t":16.625,"v":0.72},{"t":16.725,"v":0.65},{"t":16.825,"v":0.74},{"t":16.925,"v":0.67},
{"t":17.025,"v":0.73},{"t":17.125,"v":0.66},{"t":17.225,"v":0.72},{"t":17.325,"v":0.67},{"t":17.425,"v":0.74},{"t":17.525,"v":0.65},{"t":17.625,"v":0.73},{"t":17.725,"v":0.68},{"t":17.825,"v":0.72},{"t":17.925,"v":0.66},
{"t":18.025,"v":0.74},{"t":18.125,"v":0.67},{"t":18.225,"v":0.73},{"t":18.325,"v":0.66},{"t":18.425,"v":0.72},{"t":18.525,"v":0.68},{"t":18.625,"v":0.74},{"t":18.725,"v":0.65},{"t":18.825,"v":0.73},{"t":18.925,"v":0.67},
{"t":19.025,"v":0.72},{"t":19.125,"v":0.66},{"t":19.225,"v":0.74},{"t":19.325,"v":0.67},{"t":19.425,"v":0.73},{"t":19.525,"v":0.65},{"t":19.625,"v":0.72},{"t":19.725,"v":0.68},{"t":19.825,"v":0.74},{"t":19.925,"v":0.66},
{"t":20.025,"v":0.73},{"t":20.125,"v":0.67},{"t":20.225,"v":0.72},{"t":20.325,"v":0.66},{"t":20.425,"v":0.74},{"t":20.525,"v":0.68},{"t":20.625,"v":0.73},{"t":20.725,"v":0.65},{"t":20.825,"v":0.72},{"t":20.925,"v":0.67},
{"t":21.025,"v":0.73},{"t":21.125,"v":0.66},{"t":21.225,"v":0.74},{"t":21.325,"v":0.67},{"t":21.425,"v":0.72},{"t":21.525,"v":0.65},{"t":21.625,"v":0.74},{"t":21.725,"v":0.68},{"t":21.825,"v":0.73},{"t":21.925,"v":0.66},
{"t":22.025,"v":0.74},{"t":22.125,"v":0.67},{"t":22.225,"v":0.73},{"t":22.325,"v":0.65},{"t":22.425,"v":0.72},{"t":22.525,"v":0.68},{"t":22.625,"v":0.75},{"t":22.725,"v":0.66},{"t":22.825,"v":0.73},{"t":22.925,"v":0.67},
{"t":23.025,"v":0.72},{"t":23.125,"v":0.66},{"t":23.225,"v":0.74},{"t":23.325,"v":0.67},{"t":23.425,"v":0.73},{"t":23.525,"v":0.65},{"t":23.625,"v":0.72},{"t":23.725,"v":0.68},{"t":23.825,"v":0.74},{"t":23.925,"v":0.66},
{"t":24.025,"v":0.73},{"t":24.125,"v":0.67},{"t":24.225,"v":0.72},{"t":24.325,"v":0.66},{"t":24.425,"v":0.74},{"t":24.525,"v":0.68},{"t":24.625,"v":0.73},{"t":24.725,"v":0.65},{"t":24.825,"v":0.72},{"t":24.925,"v":0.67},
{"t":25.025,"v":0.73},{"t":25.125,"v":0.66},{"t":25.225,"v":0.74},{"t":25.325,"v":0.67},{"t":25.425,"v":0.72},{"t":25.525,"v":0.65},{"t":25.625,"v":0.74},{"t":25.725,"v":0.68},{"t":25.825,"v":0.73},{"t":25.925,"v":0.66},
{"t":26.025,"v":0.74},{"t":26.125,"v":0.67},{"t":26.225,"v":0.73},{"t":26.325,"v":0.65},{"t":26.425,"v":0.72},{"t":26.525,"v":0.68},{"t":26.625,"v":0.75},{"t":26.725,"v":0.66},{"t":26.825,"v":0.73},{"t":26.925,"v":0.67},
{"t":27.025,"v":0.72},{"t":27.125,"v":0.66},{"t":27.225,"v":0.74},{"t":27.325,"v":0.67},{"t":27.425,"v":0.73},{"t":27.525,"v":0.65},{"t":27.625,"v":0.72},{"t":27.725,"v":0.68},{"t":27.825,"v":0.74},{"t":27.925,"v":0.66},
{"t":28.025,"v":0.73},{"t":28.125,"v":0.67},{"t":28.225,"v":0.72},{"t":28.325,"v":0.66},{"t":28.425,"v":0.74},{"t":28.525,"v":0.68},{"t":28.625,"v":0.73},{"t":28.725,"v":0.65},{"t":28.825,"v":0.72},{"t":28.925,"v":0.67},
{"t":29.025,"v":0.73},{"t":29.125,"v":0.66},{"t":29.225,"v":0.74},{"t":29.325,"v":0.67},{"t":29.425,"v":0.72},{"t":29.525,"v":0.65},{"t":29.625,"v":0.74},{"t":29.725,"v":0.68},{"t":29.825,"v":0.73},{"t":29.925,"v":0.66},
{"t":30.025,"v":0.74},{"t":30.125,"v":0.67},{"t":30.225,"v":0.73},{"t":30.325,"v":0.65},{"t":30.425,"v":0.72},{"t":30.525,"v":0.68},{"t":30.625,"v":0.75},{"t":30.725,"v":0.66},{"t":30.825,"v":0.73},{"t":30.925,"v":0.67},
{"t":31.025,"v":0.72},{"t":31.125,"v":0.66},{"t":31.225,"v":0.74},{"t":31.325,"v":0.67},{"t":31.425,"v":0.73},{"t":31.525,"v":0.65},{"t":31.625,"v":0.72},{"t":31.725,"v":0.68},{"t":31.825,"v":0.74},{"t":31.925,"v":0.66},
{"t":32.025,"v":0.73},{"t":32.125,"v":0.67},{"t":32.225,"v":0.72},{"t":32.325,"v":0.66},{"t":32.425,"v":0.74},{"t":32.525,"v":0.68},{"t":32.625,"v":0.73},{"t":32.725,"v":0.65},{"t":32.825,"v":0.72},{"t":32.925,"v":0.67},
{"t":33.025,"v":0.73},{"t":33.125,"v":0.66},{"t":33.225,"v":0.74},{"t":33.325,"v":0.67},{"t":33.425,"v":0.72},{"t":33.525,"v":0.65},{"t":33.625,"v":0.74},{"t":33.725,"v":0.68},{"t":33.825,"v":0.73},{"t":33.925,"v":0.66},
{"t":34.025,"v":0.74},{"t":34.125,"v":0.67},{"t":34.225,"v":0.73},{"t":34.325,"v":0.65},{"t":34.425,"v":0.72},{"t":34.525,"v":0.68},{"t":34.625,"v":0.75},{"t":34.725,"v":0.66},{"t":34.825,"v":0.73},{"t":34.925,"v":0.67},
{"t":35.025,"v":0.72},{"t":35.125,"v":0.66},{"t":35.225,"v":0.74},{"t":35.325,"v":0.67},{"t":35.425,"v":0.73},{"t":35.525,"v":0.65},{"t":35.625,"v":0.72},{"t":35.725,"v":0.68},{"t":35.825,"v":0.74},{"t":35.925,"v":0.66},
{"t":36.025,"v":0.73},{"t":36.125,"v":0.67},{"t":36.225,"v":0.72},{"t":36.325,"v":0.66},{"t":36.425,"v":0.74},{"t":36.525,"v":0.68},{"t":36.625,"v":0.73},{"t":36.725,"v":0.65},{"t":36.825,"v":0.72},{"t":36.925,"v":0.67},
{"t":37.025,"v":0.73},{"t":37.125,"v":0.66},{"t":37.225,"v":0.74},{"t":37.325,"v":0.67},{"t":37.425,"v":0.72},{"t":37.525,"v":0.65},{"t":37.625,"v":0.74},{"t":37.725,"v":0.68},{"t":37.825,"v":0.73},{"t":37.925,"v":0.66},
{"t":38.025,"v":0.74},{"t":38.125,"v":0.67},{"t":38.225,"v":0.73},{"t":38.325,"v":0.65},{"t":38.425,"v":0.72},{"t":38.525,"v":0.68},{"t":38.625,"v":0.75},{"t":38.725,"v":0.66},{"t":38.825,"v":0.73},{"t":38.925,"v":0.67},
{"t":39.025,"v":0.72},{"t":39.125,"v":0.66},{"t":39.225,"v":0.74},{"t":39.325,"v":0.67},{"t":39.425,"v":0.73},{"t":39.525,"v":0.65},{"t":39.625,"v":0.72},{"t":39.725,"v":0.68},{"t":39.825,"v":0.74},{"t":39.925,"v":0.66},
{"t":40.025,"v":0.74},{"t":40.125,"v":0.67},{"t":40.225,"v":0.75},{"t":40.325,"v":0.68},{"t":40.425,"v":0.73},{"t":40.525,"v":0.66},{"t":40.625,"v":0.75},{"t":40.725,"v":0.69},{"t":40.825,"v":0.74},{"t":40.925,"v":0.67},
{"t":41.025,"v":0.75},{"t":41.125,"v":0.68},{"t":41.225,"v":0.74},{"t":41.325,"v":0.66},{"t":41.425,"v":0.73},{"t":41.525,"v":0.69},{"t":41.625,"v":0.76},{"t":41.725,"v":0.67},{"t":41.825,"v":0.74},{"t":41.925,"v":0.68},
{"t":42.025,"v":0.73},{"t":42.125,"v":0.67},{"t":42.225,"v":0.75},{"t":42.325,"v":0.68},{"t":42.425,"v":0.74},{"t":42.525,"v":0.66},{"t":42.625,"v":0.73},{"t":42.725,"v":0.69},{"t":42.825,"v":0.75},{"t":42.925,"v":0.67},
{"t":43.025,"v":0.74},{"t":43.125,"v":0.68},{"t":43.225,"v":0.73},{"t":43.325,"v":0.67},{"t":43.425,"v":0.75},{"t":43.525,"v":0.69},{"t":43.625,"v":0.74},{"t":43.725,"v":0.66},{"t":43.825,"v":0.73},{"t":43.925,"v":0.68},
{"t":44.025,"v":0.75},{"t":44.125,"v":0.67},{"t":44.225,"v":0.76},{"t":44.325,"v":0.68},{"t":44.425,"v":0.74},{"t":44.525,"v":0.66},{"t":44.625,"v":0.76},{"t":44.725,"v":0.69},{"t":44.825,"v":0.75},{"t":44.925,"v":0.67},
{"t":45.025,"v":0.76},{"t":45.125,"v":0.68},{"t":45.225,"v":0.77},{"t":45.325,"v":0.69},{"t":45.425,"v":0.75},{"t":45.525,"v":0.67},{"t":45.625,"v":0.77},{"t":45.725,"v":0.70},{"t":45.825,"v":0.76},{"t":45.925,"v":0.68},
{"t":46.025,"v":0.77},{"t":46.125,"v":0.69},{"t":46.225,"v":0.76},{"t":46.325,"v":0.67},{"t":46.425,"v":0.75},{"t":46.525,"v":0.70},{"t":46.625,"v":0.78},{"t":46.725,"v":0.68},{"t":46.825,"v":0.76},{"t":46.925,"v":0.69},
{"t":47.025,"v":0.75},{"t":47.125,"v":0.68},{"t":47.225,"v":0.77},{"t":47.325,"v":0.69},{"t":47.425,"v":0.76},{"t":47.525,"v":0.67},{"t":47.625,"v":0.75},{"t":47.725,"v":0.70},{"t":47.825,"v":0.77},{"t":47.925,"v":0.68},
{"t":48.025,"v":0.76},{"t":48.125,"v":0.69},{"t":48.225,"v":0.75},{"t":48.325,"v":0.68},{"t":48.425,"v":0.77},{"t":48.525,"v":0.70},{"t":48.625,"v":0.76},{"t":48.725,"v":0.67},{"t":48.825,"v":0.75},{"t":48.925,"v":0.69},
{"t":49.025,"v":0.76},{"t":49.125,"v":0.68},{"t":49.225,"v":0.77},{"t":49.325,"v":0.69},{"t":49.425,"v":0.75},{"t":49.525,"v":0.67},{"t":49.625,"v":0.77},{"t":49.725,"v":0.70},{"t":49.825,"v":0.76},{"t":49.925,"v":0.68},
{"t":50.025,"v":0.77},{"t":50.125,"v":0.69},{"t":50.225,"v":0.76},{"t":50.325,"v":0.67},{"t":50.425,"v":0.75},{"t":50.525,"v":0.70},{"t":50.625,"v":0.78},{"t":50.725,"v":0.68},{"t":50.825,"v":0.76},{"t":50.925,"v":0.69},
{"t":51.025,"v":0.75},{"t":51.125,"v":0.68},{"t":51.225,"v":0.77},{"t":51.325,"v":0.69},{"t":51.425,"v":0.76},{"t":51.525,"v":0.67},{"t":51.625,"v":0.75},{"t":51.725,"v":0.70},{"t":51.825,"v":0.77},{"t":51.925,"v":0.68},
{"t":52.025,"v":0.76},{"t":52.125,"v":0.69},{"t":52.225,"v":0.75},{"t":52.325,"v":0.68},{"t":52.425,"v":0.77},{"t":52.525,"v":0.70},{"t":52.625,"v":0.76},{"t":52.725,"v":0.67},{"t":52.825,"v":0.75},{"t":52.925,"v":0.69},
{"t":53.025,"v":0.76},{"t":53.125,"v":0.68},{"t":53.225,"v":0.77},{"t":53.325,"v":0.69},{"t":53.425,"v":0.75},{"t":53.525,"v":0.67},{"t":53.625,"v":0.77},{"t":53.725,"v":0.70},{"t":53.825,"v":0.76},{"t":53.925,"v":0.68},
{"t":54.025,"v":0.77},{"t":54.125,"v":0.69},{"t":54.225,"v":0.76},{"t":54.325,"v":0.67},{"t":54.425,"v":0.75},{"t":54.525,"v":0.70},{"t":54.625,"v":0.78},{"t":54.725,"v":0.68},{"t":54.825,"v":0.76},{"t":54.925,"v":0.69},
{"t":55.025,"v":0.75},{"t":55.125,"v":0.68},{"t":55.225,"v":0.77},{"t":55.325,"v":0.69},{"t":55.425,"v":0.76},{"t":55.525,"v":0.67},{"t":55.625,"v":0.75},{"t":55.725,"v":0.70},{"t":55.825,"v":0.77},{"t":55.925,"v":0.68},
{"t":56.025,"v":0.76},{"t":56.125,"v":0.69},{"t":56.225,"v":0.75},{"t":56.325,"v":0.68},{"t":56.425,"v":0.77},{"t":56.525,"v":0.70},{"t":56.625,"v":0.76},{"t":56.725,"v":0.67},{"t":56.825,"v":0.75},{"t":56.925,"v":0.69},
{"t":57.025,"v":0.76},{"t":57.125,"v":0.68},{"t":57.225,"v":0.77},{"t":57.325,"v":0.69},{"t":57.425,"v":0.75},{"t":57.525,"v":0.67},{"t":57.625,"v":0.77},{"t":57.725,"v":0.70},{"t":57.825,"v":0.76},{"t":57.925,"v":0.68},
{"t":58.025,"v":0.77},{"t":58.125,"v":0.69},{"t":58.225,"v":0.76},{"t":58.325,"v":0.67},{"t":58.425,"v":0.75},{"t":58.525,"v":0.70},{"t":58.625,"v":0.74},{"t":58.725,"v":0.66},{"t":58.825,"v":0.75},{"t":58.925,"v":0.68},
{"t":59.025,"v":0.74},{"t":59.125,"v":0.67},{"t":59.225,"v":0.75},{"t":59.325,"v":0.68},{"t":59.425,"v":0.74},{"t":59.525,"v":0.66},{"t":59.625,"v":0.73},{"t":59.725,"v":0.68},{"t":59.825,"v":0.74},{"t":59.925,"v":0.67}
]},
"mark": {"type": "line", "color": "black", "strokeWidth": 0.9, "interpolate": "linear"},
"encoding": {
"x": {"field": "t", "type": "quantitative", "scale": {"domain": [0, 60], "nice": false, "zero": false},
 "axis": {"title": "Time (min)", "values": [0,5,10,15,20,25,30,35,40,45,50,55,60], "labelExpr": "datum.value % 10 == 0 ? datum.label : ''", "format": "d",
  "grid": false, "domainColor": "#333", "tickColor": "#333", "tickSize": {"condition": {"test": "datum.value % 10 == 0", "value": 6}, "value": 4},
  "labelFont": "Liberation Serif", "labelFontSize": 15, "labelColor": "black", "labelPadding": 4, "labelFlush": false,
  "titleFont": "Liberation Serif", "titleFontSize": 18, "titleFontWeight": "normal", "titleColor": "black", "titlePadding": 22}},
"y": {"field": "v", "type": "quantitative", "scale": {"domain": [0.4, 1.0], "nice": false, "zero": false},
 "axis": {"title": "RR (sec)", "values": [0.4,0.45,0.5,0.55,0.6,0.65,0.7,0.75,0.8,0.85,0.9,0.95,1.0], "labelExpr": "abs(datum.value*10 - round(datum.value*10)) < 0.01 ? format(datum.value, '.1f') : ''",
  "grid": false, "domainColor": "#333", "tickColor": "#333", "tickSize": {"condition": {"test": "abs(datum.value*10 - round(datum.value*10)) < 0.01", "value": 7}, "value": 4},
  "labelFont": "Liberation Serif", "labelFontSize": 15, "labelColor": "black", "labelPadding": 3, "labelFlush": false,
  "titleFont": "Liberation Serif", "titleFontSize": 18, "titleFontWeight": "normal", "titleColor": "black", "titlePadding": 19}}
}
}
